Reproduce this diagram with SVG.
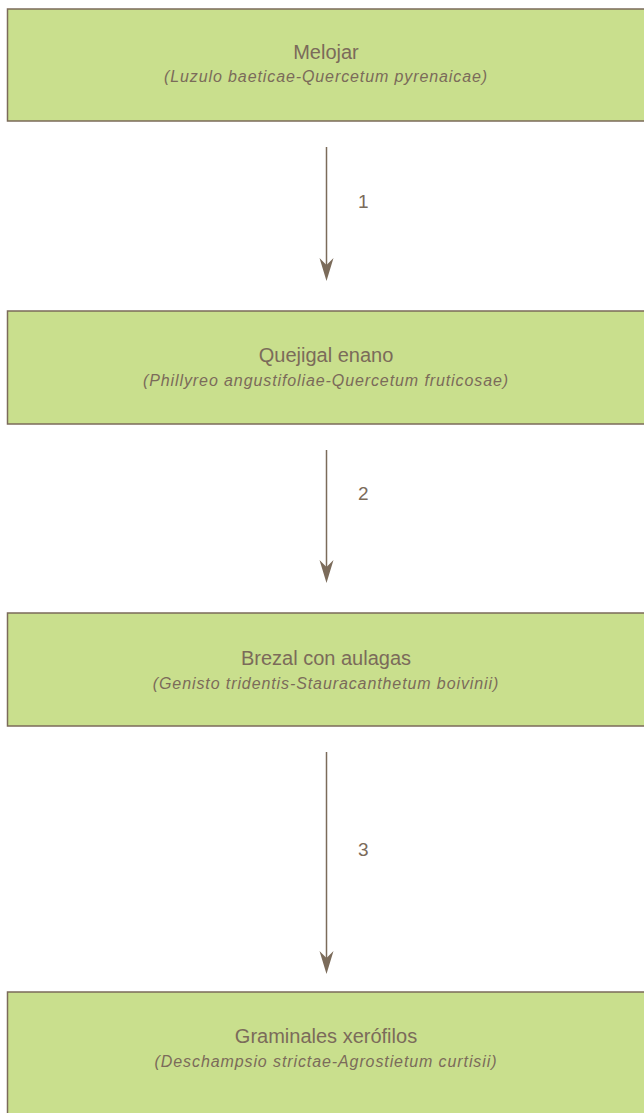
<svg xmlns="http://www.w3.org/2000/svg" width="644" height="1113" viewBox="0 0 644 1113">
<defs>
<style>
.box{fill:#c9df8d;stroke:#7b6b5a;stroke-width:1.5}
.t{font-family:"Liberation Sans",Arial,sans-serif;fill:#7b6b5a;text-anchor:middle}
.title{font-size:20px}
.sub{font-size:16px;font-style:italic;letter-spacing:0.9px}
.num{font-size:19px;text-anchor:start}
.conn{stroke:#7b6b5a;stroke-width:1.5;fill:none}
.head{fill:#7b6b5a}
</style>
</defs>
<rect width="644" height="1113" fill="#ffffff"/>
<g id="node1">
<rect class="box" x="7.5" y="9" width="660" height="112"/>
<text class="t title" x="326" y="59">Melojar</text>
<text class="t sub" x="326" y="82">(Luzulo baeticae-Quercetum pyrenaicae)</text>
</g>
<g id="node2">
<rect class="box" x="7.5" y="311" width="660" height="113"/>
<text class="t title" x="326" y="362">Quejigal enano</text>
<text class="t sub" x="326" y="386">(Phillyreo angustifoliae-Quercetum fruticosae)</text>
</g>
<g id="node3">
<rect class="box" x="7.5" y="613" width="660" height="113"/>
<text class="t title" x="326" y="665">Brezal con aulagas</text>
<text class="t sub" x="326" y="689">(Genisto tridentis-Stauracanthetum boivinii)</text>
</g>
<g id="node4">
<rect class="box" x="7.5" y="992" width="660" height="140"/>
<text class="t title" x="326" y="1043">Graminales xerófilos</text>
<text class="t sub" x="326" y="1067">(Deschampsio strictae-Agrostietum curtisii)</text>
</g>
<g id="connectors">
<line class="conn" x1="326.5" y1="147" x2="326.5" y2="266"/>
<path class="head" d="M326.5,281 L319.5,258 L326.5,265 L333.5,258 Z"/>
<text class="t num" x="358" y="208">1</text>
<line class="conn" x1="326.5" y1="450" x2="326.5" y2="568"/>
<path class="head" d="M326.5,583 L319.5,560 L326.5,567 L333.5,560 Z"/>
<text class="t num" x="358" y="500">2</text>
<line class="conn" x1="326.5" y1="752" x2="326.5" y2="959"/>
<path class="head" d="M326.5,974 L319.5,951 L326.5,958 L333.5,951 Z"/>
<text class="t num" x="358" y="856">3</text>
</g>
</svg>
